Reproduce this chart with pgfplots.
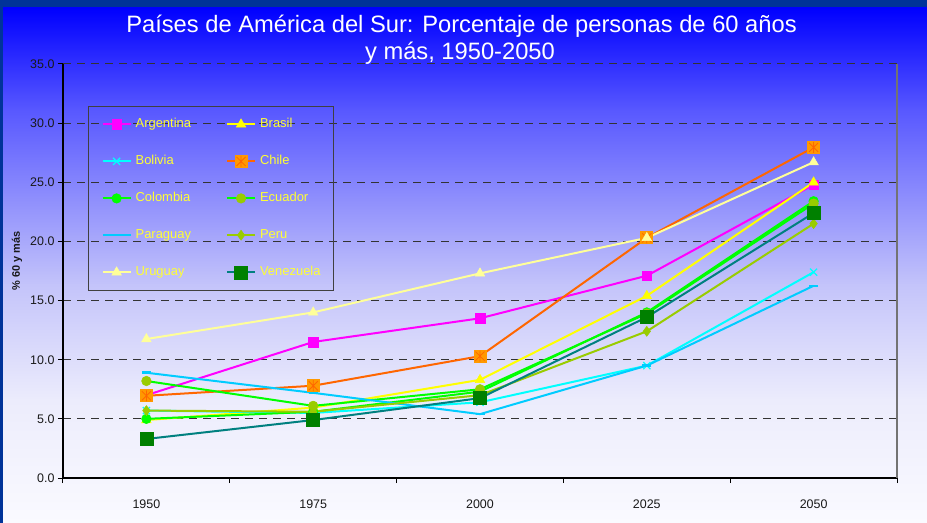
\documentclass[border=0pt]{standalone}
\usepackage{fontspec}
\setmainfont{Liberation Sans}
\usepackage{pgfplots}
\pgfplotsset{compat=1.18}

\definecolor{bandblue}{HTML}{003399}
\definecolor{bgA}{RGB}{0,0,255}
\definecolor{bgB}{RGB}{88,88,255}
\definecolor{bgC}{RGB}{196,196,250}
\definecolor{bgD}{RGB}{236,236,252}
\definecolor{bgE}{RGB}{250,250,255}
\definecolor{legtext}{HTML}{FFFF33}
\definecolor{cArg}{HTML}{FF00FF}
\definecolor{cBra}{HTML}{FFFF00}
\definecolor{cBol}{HTML}{00FFFF}
\definecolor{cChiLine}{HTML}{FF6600}
\definecolor{cChiFill}{HTML}{FF9900}
\definecolor{cCol}{HTML}{00FF00}
\definecolor{cEcuMark}{HTML}{99CC00}
\definecolor{cPar}{HTML}{00CCFF}
\definecolor{cPer}{HTML}{99CC00}
\definecolor{cUru}{HTML}{FFFF99}
\definecolor{cVenLine}{HTML}{008080}
\definecolor{cVenMark}{HTML}{008000}

% square with a star inside (Chile)
\pgfdeclareplotmark{sqx}{%
  \pgfsetfillcolor{cChiFill}%
  \pgfpathrectangle{\pgfpoint{-\pgfplotmarksize}{-\pgfplotmarksize}}%
    {\pgfpoint{2\pgfplotmarksize}{2\pgfplotmarksize}}%
  \pgfusepathqfill
  \pgfsetstrokecolor{cChiLine}\pgfsetlinewidth{0.8bp}%
  \pgfpathmoveto{\pgfpoint{-0.7\pgfplotmarksize}{-0.7\pgfplotmarksize}}%
  \pgfpathlineto{\pgfpoint{0.7\pgfplotmarksize}{0.7\pgfplotmarksize}}%
  \pgfpathmoveto{\pgfpoint{-0.7\pgfplotmarksize}{0.7\pgfplotmarksize}}%
  \pgfpathlineto{\pgfpoint{0.7\pgfplotmarksize}{-0.7\pgfplotmarksize}}%
  \pgfpathmoveto{\pgfpoint{0pt}{-0.85\pgfplotmarksize}}%
  \pgfpathlineto{\pgfpoint{0pt}{0.85\pgfplotmarksize}}%
  \pgfusepathqstroke
}

\begin{document}
\begin{tikzpicture}
% slide background
\fill[bandblue] (0bp,0bp) rectangle (927bp,523bp);
\shade[top color=bgA, bottom color=bgB] (3bp,412.5bp) rectangle (927bp,515bp);
\shade[top color=bgB, bottom color=bgC] (3bp,237.5bp) rectangle (927bp,413bp);
\shade[top color=bgC, bottom color=bgD] (3bp,122.5bp) rectangle (927bp,238bp);
\shade[top color=bgD, bottom color=bgE] (3bp,0bp) rectangle (927bp,123bp);

\begin{axis}[
  at={(63bp,45bp)}, anchor=south west,
  scale only axis, width=834bp, height=414bp,
  xmin=-0.5, xmax=4.5, ymin=0, ymax=35,
  xtick={0,1,2,3,4},
  xticklabels={1950,1975,2000,2025,2050},
  minor xtick={-0.5,0.5,1.5,2.5,3.5,4.5},
  ytick={0,5,10,15,20,25,30,35},
  axis x line*=bottom, axis y line*=left,
  axis line style={line width=1.3bp, black},
  tick align=outside,
  major tick length=5bp, minor tick length=5bp,
  tick style={line width=1bp, black},
  major x tick style={draw=none},
  ymajorgrids,
  major grid style={dash pattern=on 8bp off 6bp, line width=1bp, black!80},
  yticklabel style={/pgf/number format/.cd, fixed, fixed zerofill, precision=1},
  /pgf/number format/assume math mode=true,
  tick label style={font=\fontsize{12.5}{14}\selectfont, text=black!90},
  xticklabel style={yshift=-13bp},
  legend columns=2,
  legend cell align=left,
  legend image code/.code={%
    \draw[mark repeat=2,mark phase=2] plot coordinates {(0bp,0bp) (14bp,0bp) (28bp,0bp)};},
  legend style={
    at={(0.030,0.8986)}, anchor=north west,
    draw=black!75, line width=1.2bp, fill=none,
    text=legtext, font=\fontsize{13}{15}\selectfont,
    inner xsep=13bp, inner ysep=11.5bp,
    row sep=24.3bp,
    nodes={inner sep=0pt, text height=9.5bp, text depth=3bp},
    /tikz/every odd column/.append style={column sep=4bp},
    /tikz/every even column/.append style={column sep=35bp},
  },
  every axis plot/.append style={line width=2bp},
  clip=false,
]
\addplot[color=cArg, mark=square*, mark size=4.8bp, mark options={solid, line width=0.5bp, fill=cArg}]
  coordinates {(0,7.0) (1,11.5) (2,13.5) (3,17.1) (4,24.8)};
\addplot[color=cBra, mark=triangle*, mark size=5.5bp, mark options={solid, line width=0.5bp, fill=cBra}]
  coordinates {(0,4.9) (1,5.95) (2,8.3) (3,15.4) (4,25.0)};
\addplot[color=cBol, mark=x, mark size=5bp, mark options={solid, line width=1.2bp}]
  coordinates {(0,5.7) (1,5.5) (2,6.4) (3,9.5) (4,17.4)};
\addplot[color=cChiLine, mark=sqx, mark size=6.5bp, mark options={solid}]
  coordinates {(0,6.95) (1,7.8) (2,10.3) (3,20.3) (4,27.95)};
\addplot[color=cCol, mark=*, mark size=4.8bp, mark options={solid, line width=0.5bp, fill=cCol}]
  coordinates {(0,5.0) (1,5.6) (2,7.3) (3,14.0) (4,23.4)};
\addplot[color=cCol, mark=*, mark size=4.8bp, mark options={solid, line width=0.5bp, draw=cEcuMark, fill=cEcuMark}]
  coordinates {(0,8.2) (1,6.1) (2,7.5) (3,13.9) (4,23.2)};
\addplot[color=cPar, mark=-, mark size=4.5bp, mark options={solid, line width=2.5bp}]
  coordinates {(0,8.9) (1,7.2) (2,5.4) (3,9.5) (4,16.25)};
\addplot[color=cPer, mark=diamond*, mark size=5bp, mark options={solid, line width=0.5bp, fill=cPer}]
  coordinates {(0,5.7) (1,5.6) (2,7.0) (3,12.4) (4,21.5)};
\addplot[color=cUru, mark=triangle*, mark size=5.5bp, mark options={solid, line width=0.5bp, fill=cUru}]
  coordinates {(0,11.75) (1,14.0) (2,17.3) (3,20.3) (4,26.7)};
\addplot[color=cVenLine, mark=square*, mark size=6.5bp, mark options={solid, line width=0.5bp, draw=cVenMark, fill=cVenMark}]
  coordinates {(0,3.3) (1,4.9) (2,6.75) (3,13.6) (4,22.4)};
\legend{Argentina, Brasil, Bolivia, Chile, Colombia, Ecuador, Paraguay, Peru, Uruguay, Venezuela}
\draw[line width=1.3bp, black!55] (rel axis cs:1,0) -- (rel axis cs:1,1);
\end{axis}

% title and y label
\node[anchor=base, text=white, font=\fontsize{23.8}{28}\selectfont]
  at (461.5bp,490.7bp) {Países de América del Sur: Porcentaje de personas de 60 años};
\node[anchor=base, text=white, font=\fontsize{23.8}{28}\selectfont]
  at (460bp,463bp) {y más, 1950-2050};
\node[rotate=90, font=\bfseries\fontsize{11}{13}\selectfont, text=black!90]
  at (17bp,262bp) {\% 60 y más};

\pgfresetboundingbox
\path (0bp,0bp) rectangle (927bp,523bp);
\end{tikzpicture}
\end{document}
